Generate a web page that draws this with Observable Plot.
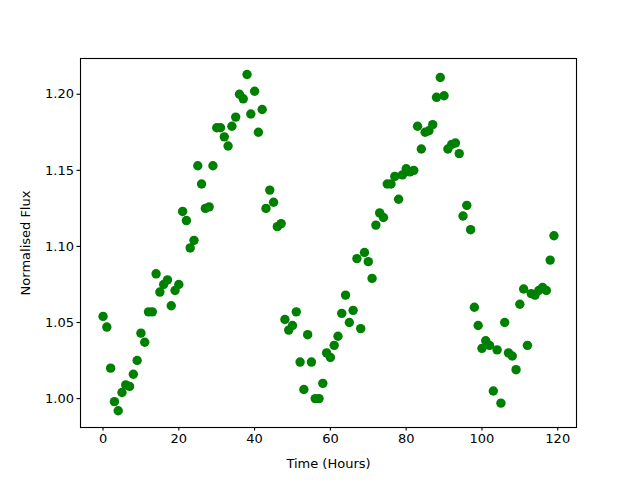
<!DOCTYPE html>
<html>
<head>
<meta charset="utf-8">
<script src="https://cdn.jsdelivr.net/npm/d3@7"></script>
<script src="https://cdn.jsdelivr.net/npm/@observablehq/plot@0.6"></script>
<style>
  body { margin: 0; background: #fff; }
  svg { font-family: "DejaVu Sans", sans-serif; }
</style>
</head>
<body>
<div id="chart"></div>
<script>
const hours = d3.range(0, 120);
const flux = [
  1.054, 1.047, 1.020, 0.998, 0.992, 1.004, 1.009, 1.008, 1.016, 1.025,
  1.043, 1.037, 1.057, 1.057, 1.082, 1.070, 1.075, 1.078, 1.061, 1.071,
  1.075, 1.123, 1.117, 1.099, 1.104, 1.153, 1.141, 1.125, 1.126, 1.153,
  1.178, 1.178, 1.172, 1.166, 1.179, 1.185, 1.200, 1.197, 1.213, 1.187,
  1.202, 1.175, 1.190, 1.125, 1.137, 1.129, 1.113, 1.115, 1.052, 1.045,
  1.048, 1.057, 1.024, 1.006, 1.042, 1.024, 1.000, 1.000, 1.010, 1.030,
  1.027, 1.035, 1.041, 1.056, 1.068, 1.050, 1.058, 1.092, 1.046, 1.096,
  1.090, 1.079, 1.114, 1.122, 1.119, 1.141, 1.141, 1.146, 1.131, 1.147,
  1.151, 1.149, 1.150, 1.179, 1.164, 1.175, 1.176, 1.180, 1.198, 1.211,
  1.199, 1.164, 1.167, 1.168, 1.161, 1.120, 1.127, 1.111, 1.060, 1.048,
  1.033, 1.038, 1.035, 1.005, 1.032, 0.997, 1.050, 1.030, 1.028, 1.019,
  1.062, 1.072, 1.035, 1.069, 1.068, 1.071, 1.073, 1.071, 1.091, 1.107
];
const xTicks = [0, 20, 40, 60, 80, 100, 120];
const yTicks = [1.00, 1.05, 1.10, 1.15, 1.20];
const xLabel = "Time (Hours)";
const yLabel = "Normalised Flux";

const data = hours.map((h, i) => ({hour: h, flux: flux[i]}));

const chart = Plot.plot({
  width: 640,
  height: 480,
  marginLeft: 80,
  marginRight: 64,
  marginTop: 58,
  marginBottom: 53,
  style: {fontSize: "13px", fontFamily: "DejaVu Sans, sans-serif", color: "#000", background: "#fff"},
  x: {domain: [-5.95, 124.95]},
  y: {domain: [0.981, 1.2235]},
  marks: [
    Plot.frame({stroke: "#000", strokeWidth: 1.1}),
    Plot.axisX({ticks: xTicks, tickSize: 3.5, tickPadding: 3, tickFormat: d => String(d),
      label: xLabel, labelAnchor: "center", labelArrow: "none", labelOffset: 40, strokeWidth: 1.1}),
    Plot.axisY({ticks: yTicks, tickSize: 3.5, tickPadding: 3, tickFormat: d => d.toFixed(2),
      label: yLabel, labelAnchor: "center", labelArrow: "none", labelOffset: 60, strokeWidth: 1.1}),
    Plot.dot(data, {x: "hour", y: "flux", r: 4.7, fill: "#008000", stroke: "none"})
  ]
});
document.getElementById("chart").append(chart);
</script>
</body>
</html>
